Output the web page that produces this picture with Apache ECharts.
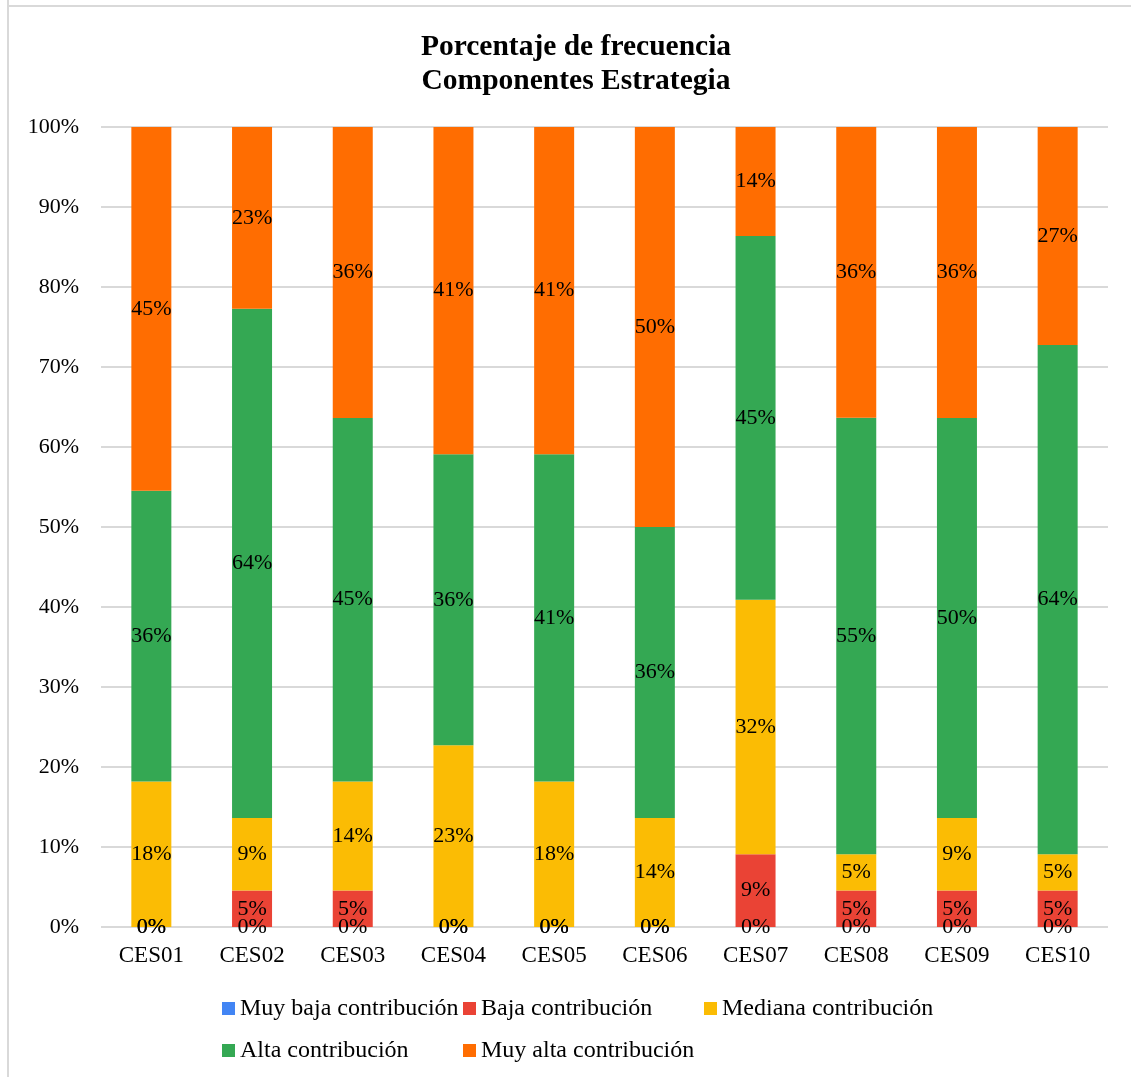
<!DOCTYPE html>
<html><head><meta charset="utf-8">
<script src="https://cdn.jsdelivr.net/npm/echarts@6/dist/echarts.min.js"></script>
<style>html,body{margin:0;padding:0;background:#fff}#c{width:1131px;height:1077px}</style>
</head><body><div id="c"></div>
<script>
const categories = ['CES01','CES02','CES03','CES04','CES05','CES06','CES07','CES08','CES09','CES10'];
const seriesNames = ['Muy baja contribución','Baja contribución','Mediana contribución','Alta contribución','Muy alta contribución'];
const muyBaja  = [0,0,0,0,0,0,0,0,0,0];
const baja     = [0,4.55,4.55,0,0,0,9.09,4.55,4.55,4.55];
const mediana  = [18.18,9.09,13.64,22.73,18.18,13.64,31.82,4.55,9.09,4.55];
const alta     = [36.36,63.64,45.45,36.36,40.91,36.36,45.45,54.55,50.00,63.64];
const muyAlta  = [45.45,22.73,36.36,40.91,40.91,50.00,13.64,36.36,36.36,27.27];
const yTicks = [0,10,20,30,40,50,60,70,80,90,100];
const colors = ['#4285F4','#EA4335','#FBBC04','#34A853','#FF6D01'];
const FONT = '"Liberation Serif", "Times New Roman", serif';

const chart = echarts.init(document.getElementById('c'));
const data = [muyBaja, baja, mediana, alta, muyAlta];
chart.setOption({
  animation: false,
  color: colors,
  textStyle: {fontFamily: FONT},
  title: {
    text: 'Porcentaje de frecuencia\nComponentes Estrategia',
    left: 571, top: 25, textAlign: 'center',
    textStyle: {fontFamily: FONT, fontWeight: 'bold', fontSize: 29.5, lineHeight: 34, color: '#000'}
  },
  graphic: [
    {type: 'line', shape: {x1: 8, y1: 0, x2: 8, y2: 1077}, style: {stroke: '#d9d9d9', lineWidth: 2}},
    {type: 'line', shape: {x1: 7, y1: 6, x2: 1131, y2: 6}, style: {stroke: '#d9d9d9', lineWidth: 2}}
  ],
  legend: {
    left: 217, top: 984, width: 760,
    icon: 'rect', itemWidth: 13, itemHeight: 13, itemGap: 3,
    textStyle: {fontFamily: FONT, fontSize: 24, color: '#000', width: 220, lineHeight: 39}
  },
  grid: {left: 101, right: 23, top: 127, bottom: 150},
  xAxis: {
    type: 'category', data: categories,
    axisLine: {show: false}, axisTick: {show: false},
    axisLabel: {fontFamily: FONT, fontSize: 23, color: '#000', margin: 17}
  },
  yAxis: {
    type: 'value', min: 0, max: 100, interval: 10,
    axisLine: {show: false}, axisTick: {show: false},
    axisLabel: {fontFamily: FONT, fontSize: 22, color: '#000', margin: 22, formatter: v => yTicks.includes(v) ? v + '%' : ''},
    splitLine: {lineStyle: {color: '#d9d9d9', width: 2}}
  },
  series: seriesNames.map((n, i) => ({
    name: n, type: 'bar', stack: 'total', barWidth: 40,
    data: data[i],
    label: {show: true, position: 'inside', fontFamily: FONT, fontSize: 22, color: '#000',
      formatter: p => Math.round(p.value) + '%'}
  }))
});
</script></body></html>
